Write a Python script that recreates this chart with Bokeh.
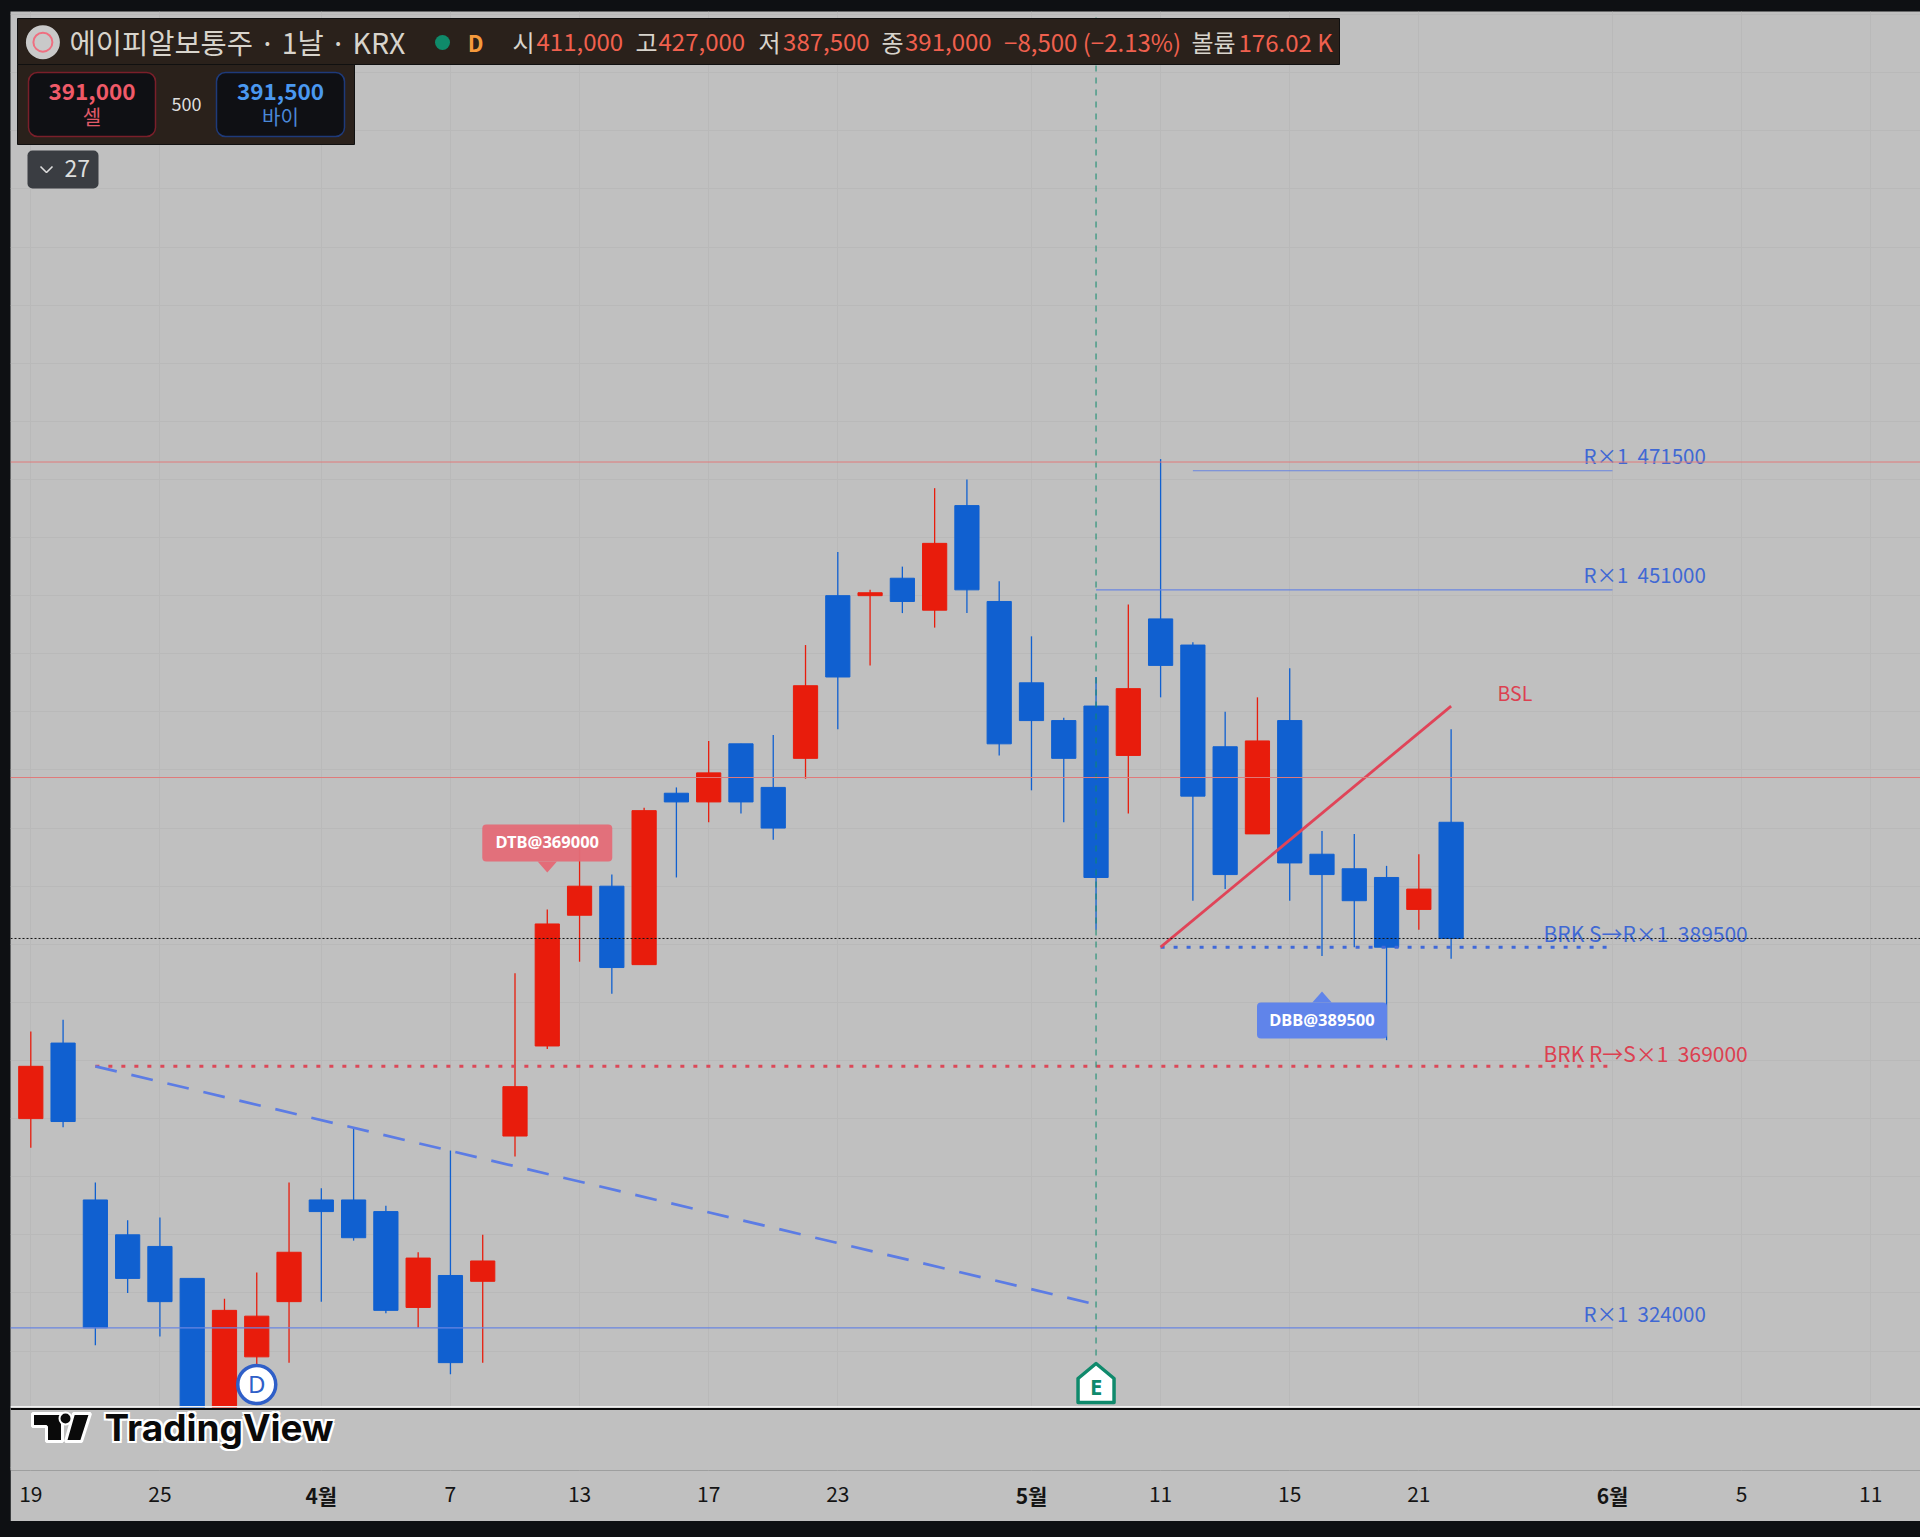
from bokeh.plotting import figure
from bokeh.models import FixedTicker, LinearAxis, Range1d, Span
from bokeh.core.properties import value
from bokeh.embed import file_html
from bokeh.resources import INLINE

# ---------- data (KRW) ----------
opens  = [360000,373000,346000,340000,338000,332500,310000,319000,328500,346000,346000,344000,327500,333000,332000,
          357000,372500,395000,400000,386500,416000,414500,424500,417000,422000,450000,450000,453000,447500,465500,
          449000,435000,428500,431000,422500,446000,441500,424000,409000,428500,405500,403000,401500,396000,411000]
highs  = [375000,377000,349000,342500,343000,332500,329000,333500,349000,348000,358500,345000,337000,354500,340000,
          385000,396000,408000,402000,413500,417000,425000,424500,426000,441500,457500,451000,455000,468500,470000,
          452500,443000,429000,436000,448500,473500,442000,430000,432500,437500,409500,409000,403500,405500,427000]
lows   = [355000,358500,321000,330000,322500,310000,310000,317500,318000,328500,339000,326500,324000,316000,318000,
          353500,372000,387000,381500,386500,401500,411000,412500,408000,418500,427000,438000,447000,444500,447000,
          422500,416500,411000,392500,412500,432500,397500,399500,409000,397500,388000,389500,373500,392500,387500]
closes = [369000,359500,324000,332500,328500,310000,327000,326000,337000,344000,339500,327000,336000,318000,335500,
          365500,393500,400000,386000,413000,414500,419500,414500,410000,434500,436000,450500,449000,459000,451000,
          424500,428500,422000,401500,434000,438000,415500,402000,425000,404000,402000,397500,389500,399500,391000]
day_ticks   = [0,4,13,17,21,25,35,39,43,53,57]
day_labels  = ["19","25","7","13","17","23","11","15","21","5","11"]
month_ticks = [9,31,49]
month_labels= ["4월","5월","6월"]
full_lines  = [473000, 418700]
last_close  = 391000
levels      = [471500, 451000, 324000]
level_start = [36, 33, None]
level_end   = 49
brk_s, brk_r = 389500, 369000
idx_s, idx_r = 35, 2
bsl_x, bsl_y = [35, 44], [389500, 431000]
trend_x, trend_y = [2, 33], [369000, 328000]
earn_idx, div_idx = 33, 7
dtb_idx, dbb_idx = 16, 40

# ---------- pixel helpers ----------
X0, DX = 30.3, 32.28
WON_PER_PX = 172.1
def px(x): return (x - X0) / DX
def py(y): return 389500 + (946.7 - y) * WON_PER_PX
FONT = "Noto Sans CJK KR"
BG = "#c0c0c0"
BULL, BEAR = "#e81c0c", "#1060d0"
BLUE_T, RED_T = "#3f68d4", "#dc4050"

p = figure(width=1910, height=1510, output_backend="svg", toolbar_location=None,
           x_range=Range1d(px(10), px(1920)), y_range=Range1d(py(1470), py(11)),
           min_border_left=0, min_border_right=0, min_border_top=0, min_border_bottom=51)
p.background_fill_color = BG
p.border_fill_color = BG
p.outline_line_color = None
p.yaxis.visible = False
p.ygrid.ticker = FixedTicker(ticks=list(range(300000, 551000, 10000)))
p.xgrid.ticker = FixedTicker(ticks=day_ticks + month_ticks)
p.xgrid.grid_line_color = "#b9b9b9"
p.ygrid.grid_line_color = "#b9b9b9"
p.xgrid.grid_line_width = 1
p.ygrid.grid_line_width = 1

ax = p.xaxis[0]
ax.ticker = FixedTicker(ticks=day_ticks)
ax.major_label_overrides = dict(zip(day_ticks, day_labels))
ax.axis_line_color = None
ax.major_tick_line_color = None
ax.minor_tick_line_color = None
ax.major_tick_out = 0
ax.major_tick_in = 0
ax.major_label_standoff = 15
ax.major_label_text_font = FONT
ax.major_label_text_font_size = "21px"
ax.major_label_text_color = "#141414"

ax2 = LinearAxis(ticker=FixedTicker(ticks=month_ticks),
                 major_label_overrides=dict(zip(month_ticks, month_labels)),
                 axis_line_color=None, major_tick_line_color=None, minor_tick_line_color=None,
                 major_tick_out=0, major_tick_in=0, major_label_standoff=-25,
                 major_label_text_font=FONT, major_label_text_font_size="21px",
                 major_label_text_font_style="bold", major_label_text_color="#141414")
p.add_layout(ax2, "below")

# ---------- candles ----------
xs = list(range(len(opens)))
cols = [BULL if c >= o else BEAR for o, c in zip(opens, closes)]
p.segment(xs, highs, xs, lows, line_color=cols, line_width=1.3)
p.vbar(x=xs, width=0.75, bottom=opens, top=closes, fill_color=cols, line_color=cols, line_width=1)

# pane boundary below the candles
p.quad(left=[px(10)], right=[px(1920)], top=[py(1408)], bottom=[py(1470)], fill_color=BG, line_color=None)
p.add_layout(Span(location=py(1406.3), dimension="width", line_color="#f0f0f0", line_width=1.5))
p.add_layout(Span(location=py(1408.6), dimension="width", line_color="#0a0a0a", line_width=2))

# ---------- levels ----------
for v in full_lines:
    p.add_layout(Span(location=v, dimension="width", line_color="#e07a7a", line_width=1))
p.add_layout(Span(location=last_close, dimension="width", line_color="#111111", line_width=1, line_dash="2 2"))
for v, s in zip(levels, level_start):
    p.line([px(10) if s is None else s, level_end], [v, v], line_color="#6a86e0", line_width=1.2)
p.line([idx_s, level_end], [brk_s, brk_s], line_color="#3f68d8", line_width=3, line_dash="4 9")
p.line([idx_r, level_end - 0.1], [brk_r, brk_r], line_color="#dc4858", line_width=3, line_dash="4 9")
p.line(trend_x, trend_y, line_color="#5c7ce4", line_width=2.7, line_dash="22 15")
p.line(bsl_x, bsl_y, line_color="#e04458", line_width=2.8)
p.line([earn_idx, earn_idx], [py(1355), py(11)], line_color="#108a6c", line_width=1, line_dash="6 6")

def t(x, y, s, color, size, bold=False, align="left", font=FONT):
    return p.text([x], [y], text=[s], text_color=color, text_font=value(font), text_font_size=f"{size}px",
                  text_font_style="bold" if bold else "normal", text_align=align, text_baseline="middle")

for v, lab_y in zip(levels, [454.5, 573, 1312.5]):
    t(px(1583), py(lab_y), f"R×1\u00a0\u00a0{v}", BLUE_T, 20.5)
t(px(1543), py(932), f"BRK S→R×1\u00a0\u00a0{brk_s}", BLUE_T, 21)
t(px(1543), py(1052), f"BRK R→S×1\u00a0\u00a0{brk_r}", RED_T, 21)
t(px(1497), py(692), "BSL", RED_T, 19.5)

# ---------- pattern labels ----------
def quad_px(l, r, top, bot, fill, line=None, lw=1, radius=0, alpha=1):
    return p.quad(left=[px(l)], right=[px(r)], top=[py(top)], bottom=[py(bot)], fill_color=fill, fill_alpha=alpha,
                  line_color=line, line_width=lw, border_radius=radius)

dtb_cx = X0 + DX * dtb_idx
quad_px(dtb_cx - 65, dtb_cx + 65, 824, 861, "#e36c78", radius=4, alpha=0.96)
p.patch([dtb_idx - 0.3, dtb_idx + 0.3, dtb_idx], [py(861), py(861), py(872)], fill_color="#e36c78", line_color=None)
t(dtb_idx, py(841), "DTB@369000", "#ffffff", 16.5, bold=True, align="center", font="Noto Sans")

dbb_cx = X0 + DX * dbb_idx
quad_px(dbb_cx - 65, dbb_cx + 65, 1002, 1038, "#6084ea", radius=4)
p.patch([dbb_idx - 0.3, dbb_idx + 0.3, dbb_idx], [py(1002), py(1002), py(991)], fill_color="#6084ea", line_color=None)
t(dbb_idx, py(1019), "DBB@389500", "#ffffff", 16.5, bold=True, align="center", font="Noto Sans")

# ---------- event markers ----------
p.scatter([div_idx], [py(1384)], marker="circle", size=38, fill_color="#ffffff", line_color="#2f5fc8", line_width=3.5)
t(div_idx, py(1383), "D", "#2f5fc8", 24, align="center", font="Noto Sans")
ex = X0 + DX * earn_idx
p.patch([px(ex - 18), px(ex - 18), px(ex), px(ex + 18), px(ex + 18)],
        [py(1402), py(1378), py(1363), py(1378), py(1402)],
        fill_color="#ffffff", line_color="#108a6c", line_width=3.5, line_join="round")
t(earn_idx, py(1385), "E", "#108a6c", 22, bold=True, align="center", font="Noto Sans")

# ---------- TradingView mark ----------
for pts in ([(32, 1413), (62, 1413), (62, 1441), (46, 1441), (46, 1426), (32, 1426)],
            [(73, 1413), (90, 1413), (81, 1441), (65, 1441)]):
    p.patch([px(a) for a, b in pts], [py(b) for a, b in pts], fill_color="#0a0a0a", line_color="#ffffff", line_width=3)
p.scatter([px(65)], [py(1418)], marker="circle", size=12, fill_color="#0a0a0a", line_color="#ffffff", line_width=2)
for dx, dy, col in [(-2, -2, "#ffffff"), (2, -2, "#ffffff"), (-2, 2, "#ffffff"), (2, 2, "#ffffff"), (0, 0, "#0a0a0a")]:
    p.text([px(104)], [py(1427)], text=["TradingView"], text_color=col, text_font=value("Inter"),
           text_font_size="37px", text_font_style="bold", text_align="left", text_baseline="middle",
           x_offset=dx, y_offset=dy)

# ---------- header ----------
PANEL = "#2a211b"
quad_px(17, 1339, 18, 64, PANEL, line="#101010")
quad_px(17, 354, 64, 144, PANEL, line="#101010")
p.scatter([px(42.4)], [py(41.7)], marker="circle", size=34, fill_color="#c9c9c9", line_color=None)
p.scatter([px(42.4)], [py(41.7)], marker="circle", size=19, fill_color="#c9c9c9", line_color="#ef6f80", line_width=2)
t(px(69), py(41), "에이피알보통주 · 1날 · KRX", "#d8d4cc", 28.5)
p.scatter([px(442)], [py(42)], marker="circle", size=15, fill_color="#0f8a6a", line_color=None)
t(px(475), py(41), "D", "#f59a3c", 22, bold=True, align="center")
LAB, VAL = "#d8d4cc", "#f0604e"
for x, s, c in [(512, "시", LAB), (536, "411,000", VAL), (635, "고", LAB), (658, "427,000", VAL),
                (758, "저", LAB), (782.6, "387,500", VAL), (881, "종", LAB), (904.5, "391,000", VAL),
                (1003.6, "−8,500 (−2.13%)", VAL), (1191, "볼륨", LAB), (1238, "176.02 K", VAL)]:
    t(px(x), py(41), s, c, 24)
quad_px(28, 155, 72, 136, "#0f1014", line="#7a1f2a", lw=1.5, radius=9)
quad_px(216, 344, 72, 136, "#0f1014", line="#1e3a7a", lw=1.5, radius=9)
t(px(91.5), py(91), "391,000", "#f05a68", 22.5, bold=True, align="center")
t(px(91.5), py(116), "셀", "#e05a68", 20, align="center")
t(px(186), py(103), "500", "#dedede", 18, align="center")
t(px(280), py(91), "391,500", "#4a98f0", 22.5, bold=True, align="center")
t(px(280), py(116), "바이", "#4a88d8", 20, align="center")
quad_px(27, 98, 150, 188, "#3a3d42", radius=5)
p.line([px(40), px(46), px(52)], [py(166), py(172), py(166)], line_color="#dddddd", line_width=1.6)
t(px(64), py(168), "27", "#dddddd", 23)

html = file_html(p, INLINE)
html = html.replace("</head>", "<style>html,body{background:#0e1013;margin:0;overflow:hidden}"
                               "body{padding:11px 0 0 10px}</style></head>", 1)
open("out.html", "w").write(html)
